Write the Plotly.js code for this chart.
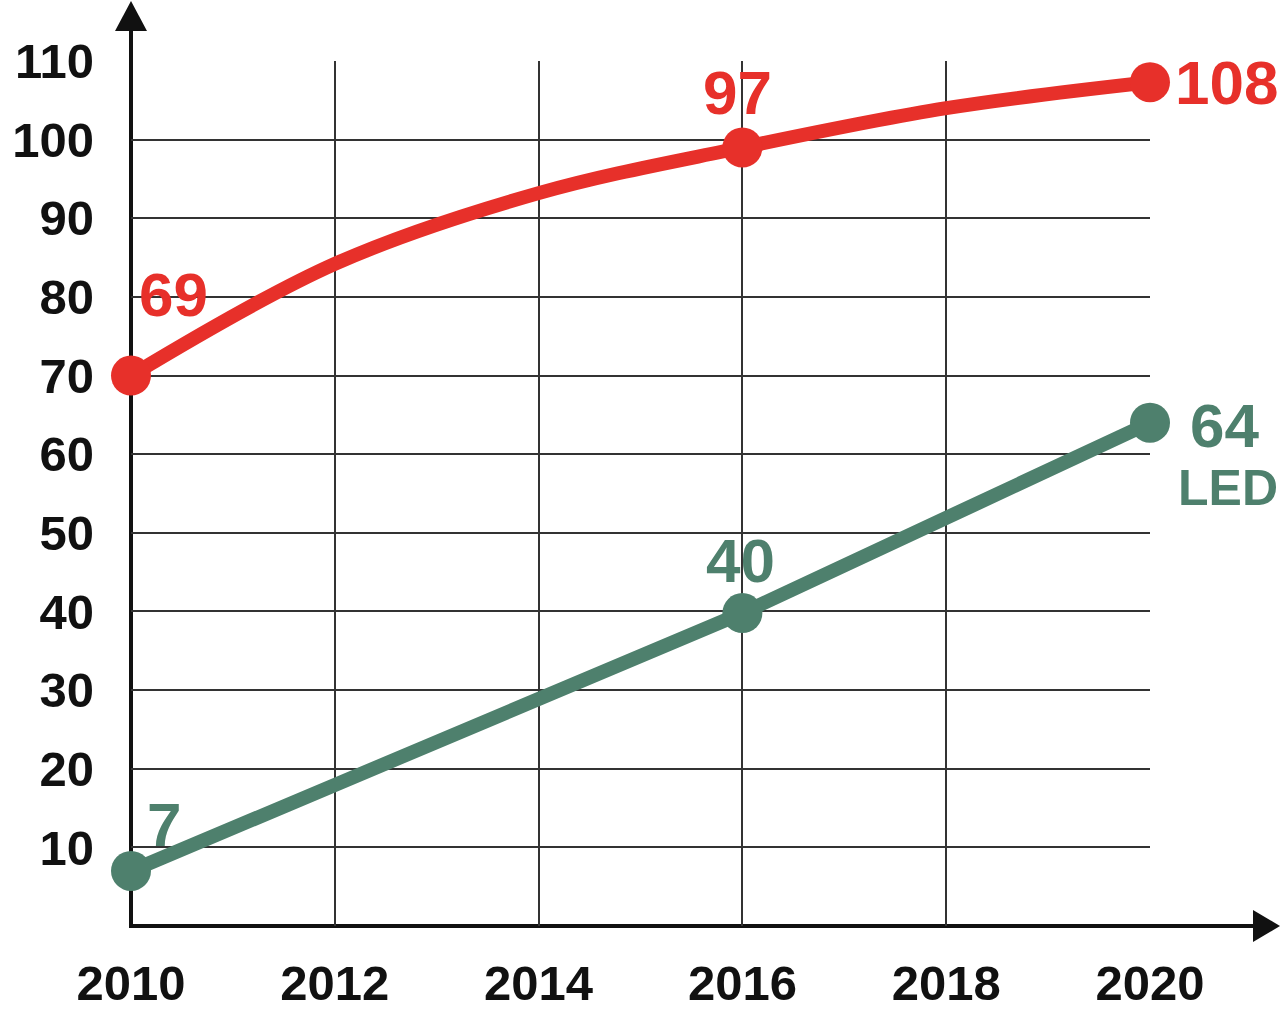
<!DOCTYPE html>
<html>
<head>
<meta charset="utf-8">
<script src="https://cdn.plot.ly/plotly-3.0.1.min.js"></script>
<style>html,body{margin:0;padding:0;background:#fff;}#chart{width:1280px;height:1012px;}</style>
</head>
<body>
<div id="chart"></div>
<script>
// ---- data ----
const years = [2010, 2016, 2020];
const redValues = [70, 99, 107.3];          // marker positions
const redLabels = ['69', '97', '108'];       // printed labels
const redCurveYears = [2010, 2012, 2014, 2016, 2018, 2020];
const redCurveValues = [70, 84.2, 93.2, 99, 104, 107.3];
const greenValues = [7, 39.8, 64];
const greenLabels = ['7', '40', '64'];
const seriesName = 'LED';
const xTicks = [2010, 2012, 2014, 2016, 2018, 2020];
const yTicks = [10, 20, 30, 40, 50, 60, 70, 80, 90, 100, 110];

const RED = '#E7302A';
const GREEN = '#4E806D';
const FONT = 'Liberation Sans, Arial, sans-serif';

const traces = [
  {x: redCurveYears, y: redCurveValues, mode: 'lines', line: {color: RED, width: 14, shape: 'spline', smoothing: 1}, hoverinfo: 'skip', cliponaxis: false},
  {x: years, y: redValues, mode: 'markers', marker: {color: RED, size: 40}, cliponaxis: false},
  {x: years, y: greenValues, mode: 'lines+markers', line: {color: GREEN, width: 14}, marker: {color: GREEN, size: 40}, cliponaxis: false}
];

const redShifts = [[42, 81], [-5, 55], [76, 0]];
const greenShifts = [[33, 46], [-2, 53], [74, -3]];
const annotations = [];
years.forEach((yr, i) => {
  annotations.push({x: yr, y: redValues[i], xref: 'x', yref: 'y', text: '<b>' + redLabels[i] + '</b>', showarrow: false,
    xshift: redShifts[i][0], yshift: redShifts[i][1], font: {family: FONT, size: 62, color: RED}});
  annotations.push({x: yr, y: greenValues[i], xref: 'x', yref: 'y', text: '<b>' + greenLabels[i] + '</b>', showarrow: false,
    xshift: greenShifts[i][0], yshift: greenShifts[i][1], font: {family: FONT, size: 62, color: GREEN}});
});
annotations.push({x: years[2], y: greenValues[2], xref: 'x', yref: 'y', text: '<b>' + seriesName + '</b>', showarrow: false,
  xshift: 78, yshift: -65, font: {family: FONT, size: 50, color: GREEN}});

const W = 1019, H = 865;
const px = v => v / W, py = v => v / H;
const shapes = [
  // y-axis line + arrow head
  {type: 'line', layer: 'between', xref: 'paper', yref: 'paper', x0: 0, x1: 0, y0: -py(2), y1: 1 + py(32), line: {color: '#111', width: 4}},
  {type: 'path', xref: 'paper', yref: 'paper', path: `M ${-px(16)} ${1 + py(30)} L ${px(16)} ${1 + py(30)} L 0 ${1 + py(60)} Z`, fillcolor: '#111', line: {width: 0}},
  // x-axis line + arrow head
  {type: 'line', layer: 'between', xref: 'paper', yref: 'paper', x0: -px(2), x1: 1 + px(106), y0: 0, y1: 0, line: {color: '#111', width: 4}},
  {type: 'path', xref: 'paper', yref: 'paper', path: `M ${1 + px(103)} ${py(16)} L ${1 + px(103)} ${-py(16)} L ${1 + px(130)} 0 Z`, fillcolor: '#111', line: {width: 0}}
];

const layout = {
  width: 1280, height: 1012,
  margin: {l: 131, r: 130, t: 61, b: 86},
  paper_bgcolor: '#fff', plot_bgcolor: '#fff',
  showlegend: false,
  xaxis: {range: [2010, 2020], tickvals: xTicks, ticktext: xTicks.map(String), showgrid: true, gridcolor: '#333', gridwidth: 2,
    zeroline: false, showline: false, ticks: '', ticklabelstandoff: 24,
    tickfont: {family: FONT, size: 49, color: '#111', weight: 'bold'}, fixedrange: true},
  yaxis: {range: [0, 110], tickvals: yTicks, ticktext: yTicks.map(String), showgrid: true, gridcolor: '#333', gridwidth: 2,
    zeroline: false, showline: false, ticks: '', ticklabelstandoff: 36,
    tickfont: {family: FONT, size: 49, color: '#111', weight: 'bold'}, fixedrange: true},
  annotations: annotations,
  shapes: shapes
};

Plotly.newPlot('chart', traces, layout, {staticPlot: true, displayModeBar: false});
</script>
</body>
</html>
